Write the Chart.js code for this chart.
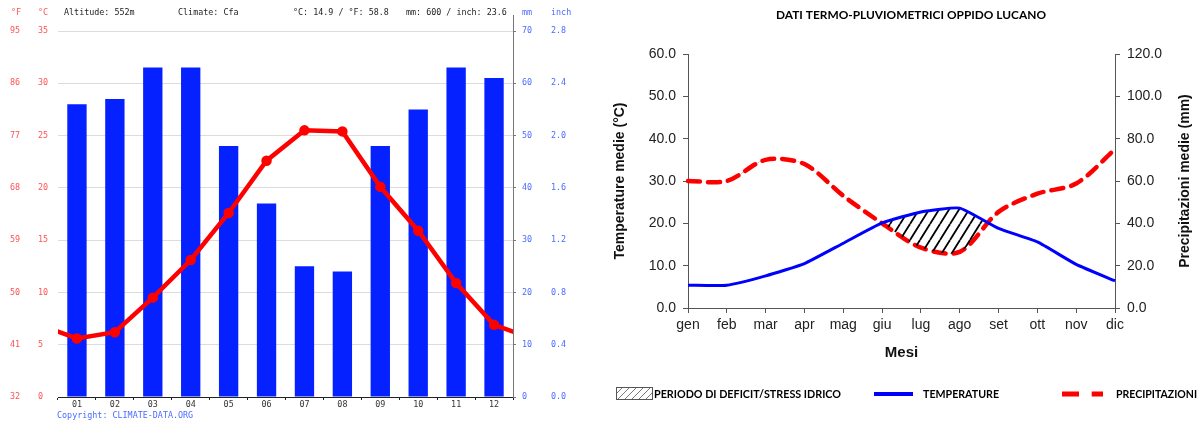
<!DOCTYPE html>
<html>
<head>
<meta charset="utf-8">
<title>Clima Oppido Lucano</title>
<script src="https://cdn.jsdelivr.net/npm/chart.js"></script>
<style>
  body { margin: 0; background: #fff; }
  #left { position: absolute; left: 0; top: 0; }
  #right { position: absolute; left: 600px; top: 0; }
</style>
</head>
<body>
<canvas id="left" width="600" height="426"></canvas>
<canvas id="right" width="604" height="426"></canvas>
<script>
// --- climate-data.org chart (left) ---
const months = ['01', '02', '03', '04', '05', '06', '07', '08', '09', '10', '11', '12'];
const tempC = [5.6, 6.2, 9.5, 13.1, 17.6, 22.6, 25.5, 25.4, 20.1, 15.9, 10.9, 6.9];
const rainMm = [56, 57, 63, 63, 48, 37, 25, 24, 48, 55, 63, 61];
const tickC = ['0', '5', '10', '15', '20', '25', '30', '35'];
const tickF = ['32', '41', '50', '59', '68', '77', '86', '95'];
const tickMm = ['0', '10', '20', '30', '40', '50', '60', '70'];
const tickInch = ['0.0', '0.4', '0.8', '1.2', '1.6', '2.0', '2.4', '2.8'];

// --- termo-pluviometric chart (right) ---
const mesi = ['gen', 'feb', 'mar', 'apr', 'mag', 'giu', 'lug', 'ago', 'set', 'ott', 'nov', 'dic'];
const tempMedie = [5.4, 5.4, 7.6, 10.5, 15.3, 20.1, 22.7, 23.6, 18.8, 15.6, 10.3, 6.4];
const precMedie = [60, 60, 70, 68, 53, 40, 28.5, 26.5, 45.4, 54, 58.8, 75];
const tickTemp = ['0.0', '10.0', '20.0', '30.0', '40.0', '50.0', '60.0'];
const tickPrec = ['0.0', '20.0', '40.0', '60.0', '80.0', '100.0', '120.0'];

const mono = 'DejaVu Sans Mono';
const red = '#ff5252';
const blueTxt = '#4b6bff';

// one empty slot each side so the temperature line wraps round the year
// (dec before jan, jan after dec) and gets cut at the plot edges
const slots = [''].concat(months, ['']);
const tempWrap = [tempC[11]].concat(tempC, [tempC[0]]);
const rainWrap = [null].concat(rainMm, [null]);

const leftDecor = {
  id: 'leftDecor',
  afterDraw(chart) {
    const ctx = chart.ctx;
    const a = chart.chartArea;
    ctx.save();
    ctx.font = '8.4px "' + mono + '"';
    ctx.textBaseline = 'middle';
    ctx.textAlign = 'left';
    ctx.fillStyle = red;
    ctx.fillText('°F', 11, 13);
    ctx.fillText('°C', 38, 13);
    ctx.fillStyle = '#222';
    ctx.fillText('Altitude: 552m', 64, 13);
    ctx.fillText('Climate: Cfa', 178, 13);
    ctx.fillText('°C: 14.9 / °F: 58.8', 293, 13);
    ctx.fillText('mm: 600 / inch: 23.6', 406, 13);
    ctx.fillStyle = blueTxt;
    ctx.fillText('mm', 522, 13);
    ctx.fillText('inch', 551, 13);
    ctx.fillText('Copyright: CLIMATE-DATA.ORG', 57, 416);
    // right axis runs up past the plot top
    ctx.strokeStyle = '#777';
    ctx.lineWidth = 1;
    ctx.beginPath();
    ctx.moveTo(Math.round(a.right) + 0.5, 15);
    ctx.lineTo(Math.round(a.right) + 0.5, a.top);
    ctx.stroke();
    ctx.restore();
  }
};

new Chart(document.getElementById('left'), {
  type: 'bar',
  data: {
    labels: slots,
    datasets: [{
      type: 'line',
      data: tempWrap,
      yAxisID: 'yC',
      borderColor: '#ff0000',
      backgroundColor: '#ff0000',
      borderWidth: 4.5,
      pointRadius: 3,
      tension: 0,
      clip: 0,
      order: 0
    }, {
      data: rainWrap,
      yAxisID: 'yMm',
      backgroundColor: '#0521ff',
      barPercentage: 0.51,
      categoryPercentage: 1,
      grouped: false,
      order: 1
    }]
  },
  options: {
    responsive: false,
    animation: false,
    layout: { padding: { left: 10, top: 31, right: 19, bottom: 0 } },
    plugins: { legend: { display: false }, tooltip: { enabled: false } },
    scales: {
      x: {
        position: 'bottom',
        offset: true,
        grid: { offset: true, drawOnChartArea: false, tickLength: 3, color: '#222' },
        border: { color: '#222' },
        ticks: { font: { family: mono, size: 8.4 }, color: '#333', padding: 0, maxRotation: 0 },
        // show only the 12 real months, keep the wrap slots off-plot
        afterDataLimits: s => { s.min = 1; s.max = 12; },
        afterFit: s => { s.height = 29; }
      },
      yC: {
        position: 'left',
        weight: 0,
        min: 0, max: 35,
        ticks: { stepSize: 5, crossAlign: 'far', color: red, font: { family: mono, size: 8.4 }, callback: (v, i) => tickC[i] },
        grid: { color: '#dcdcdc', drawTicks: false },
        border: { display: false },
        afterFit: s => { s.width = 20; }
      },
      yF: {
        position: 'left',
        weight: 1,
        min: 0, max: 35,
        ticks: { stepSize: 5, crossAlign: 'far', color: red, font: { family: mono, size: 8.4 }, callback: (v, i) => tickF[i] },
        grid: { display: false, drawTicks: false },
        border: { display: false },
        afterFit: s => { s.width = 28; }
      },
      yMm: {
        position: 'right',
        weight: 0,
        min: 0, max: 70,
        ticks: { stepSize: 10, color: blueTxt, padding: 6, font: { family: mono, size: 8.4 }, callback: (v, i) => tickMm[i] },
        grid: { drawOnChartArea: false, tickLength: 3, color: '#777' },
        border: { color: '#777' },
        afterFit: s => { s.width = 38; }
      },
      yIn: {
        position: 'right',
        weight: 1,
        min: 0, max: 70,
        ticks: { stepSize: 10, color: blueTxt, padding: 0, font: { family: mono, size: 8.4 }, callback: (v, i) => tickInch[i] },
        grid: { display: false, drawTicks: false },
        border: { display: false },
        afterFit: s => { s.width = 30; }
      }
    }
  },
  plugins: [leftDecor]
});

// hatch for the dry period
const rightCtx = document.getElementById('right').getContext('2d');
function makeHatch() {
  const c = document.createElement('canvas');
  c.width = 10; c.height = 16;
  const g = c.getContext('2d');
  g.strokeStyle = '#000';
  g.lineWidth = 1.8;
  for (let k = -1; k <= 1; k++) {
    g.beginPath();
    g.moveTo(k * 10, 16);
    g.lineTo(k * 10 + 10, 0);
    g.stroke();
  }
  return rightCtx.createPattern(c, 'repeat');
}
const hatch = makeHatch();

const calibri = 'Lato';

const rightDecor = {
  id: 'rightDecor',
  afterDraw(chart) {
    const ctx = chart.ctx;
    const a = chart.chartArea;
    ctx.save();
    ctx.fillStyle = '#000';
    ctx.textBaseline = 'middle';
    ctx.textAlign = 'center';
    ctx.font = 'bold 12px "' + calibri + '"';
    ctx.fillText('DATI TERMO-PLUVIOMETRICI OPPIDO LUCANO', 311, 15, 270);

    // right axis title, reads bottom to top
    ctx.save();
    ctx.translate(585, (a.top + a.bottom) / 2);
    ctx.rotate(-Math.PI / 2);
    ctx.font = 'bold 14px "Liberation Sans"';
    ctx.fillStyle = '#111';
    ctx.fillText('Precipitazioni medie (mm)', 0, 0);
    ctx.restore();

    // legend
    const ly = 394;
    ctx.save();
    ctx.beginPath();
    ctx.rect(16, 387.5, 37, 12);
    ctx.clip();
    ctx.strokeStyle = '#555';
    ctx.lineWidth = 0.8;
    for (let x = 10; x < 70; x += 7) {
      ctx.beginPath();
      ctx.moveTo(x, 400);
      ctx.lineTo(x + 13, 387);
      ctx.stroke();
    }
    ctx.restore();
    ctx.strokeStyle = '#555';
    ctx.lineWidth = 1;
    ctx.strokeRect(16.5, 387.5, 36, 12);

    ctx.textAlign = 'left';
    ctx.font = 'bold 11.5px "' + calibri + '"';
    ctx.fillStyle = '#000';
    ctx.fillText('PERIODO DI DEFICIT/STRESS IDRICO', 54, ly, 187);

    ctx.strokeStyle = '#0000ff';
    ctx.lineWidth = 4;
    ctx.beginPath();
    ctx.moveTo(274, ly);
    ctx.lineTo(313, ly);
    ctx.stroke();
    ctx.fillText('TEMPERATURE', 323, ly, 76);

    ctx.strokeStyle = '#ff0000';
    ctx.lineWidth = 5;
    ctx.setLineDash([17, 12.7]);
    ctx.beginPath();
    ctx.moveTo(462, ly);
    ctx.lineTo(503, ly);
    ctx.stroke();
    ctx.setLineDash([]);
    ctx.fillText('PRECIPITAZIONI', 516, ly, 81);
    ctx.restore();
  }
};

const tickFont = { family: 'Liberation Sans', size: 14 };

new Chart(rightCtx, {
  type: 'line',
  data: {
    labels: mesi,
    datasets: [{
      data: tempMedie,
      yAxisID: 'yT',
      borderColor: '#0000ff',
      borderWidth: 3,
      pointRadius: 0,
      tension: 0.15,
      fill: { target: 1, above: hatch, below: 'rgba(0,0,0,0)' }
    }, {
      data: precMedie,
      yAxisID: 'yP',
      borderColor: '#ff0000',
      borderWidth: 4.5,
      borderDash: [12, 8],
      borderCapStyle: 'round',
      pointRadius: 0,
      tension: 0.3,
      fill: false
    }]
  },
  options: {
    responsive: false,
    animation: false,
    layout: { padding: { left: 8, top: 54, right: 0, bottom: 0 } },
    plugins: { legend: { display: false }, tooltip: { enabled: false } },
    scales: {
      x: {
        grid: { drawOnChartArea: false, tickLength: 5, color: '#555' },
        border: { color: '#555' },
        ticks: { font: tickFont, color: '#222', padding: 4, maxRotation: 0, autoSkip: false },
        title: { display: true, text: 'Mesi', color: '#111', font: { family: 'Liberation Sans', size: 15, weight: 'bold' }, padding: { top: 0, bottom: 64 } },
        afterFit: s => { s.height = 118; }
      },
      yT: {
        position: 'left',
        min: 0, max: 60,
        ticks: { stepSize: 10, font: tickFont, color: '#222', padding: 7, callback: (v, i) => tickTemp[i] },
        grid: { drawOnChartArea: false, tickLength: 5, color: '#555' },
        border: { color: '#555' },
        title: { display: true, text: 'Temperature medie (°C)', color: '#111', font: { family: 'Liberation Sans', size: 14, weight: 'bold' }, padding: { top: 4, bottom: 0 } },
        afterFit: s => { s.width = 80; }
      },
      yP: {
        position: 'right',
        min: 0, max: 120,
        ticks: { stepSize: 20, font: tickFont, color: '#222', padding: 7, callback: (v, i) => tickPrec[i] },
        grid: { drawOnChartArea: false, tickLength: 5, color: '#555' },
        border: { color: '#555' },
        afterFit: s => { s.width = 89; }
      }
    }
  },
  plugins: [rightDecor]
});
</script>
</body>
</html>
